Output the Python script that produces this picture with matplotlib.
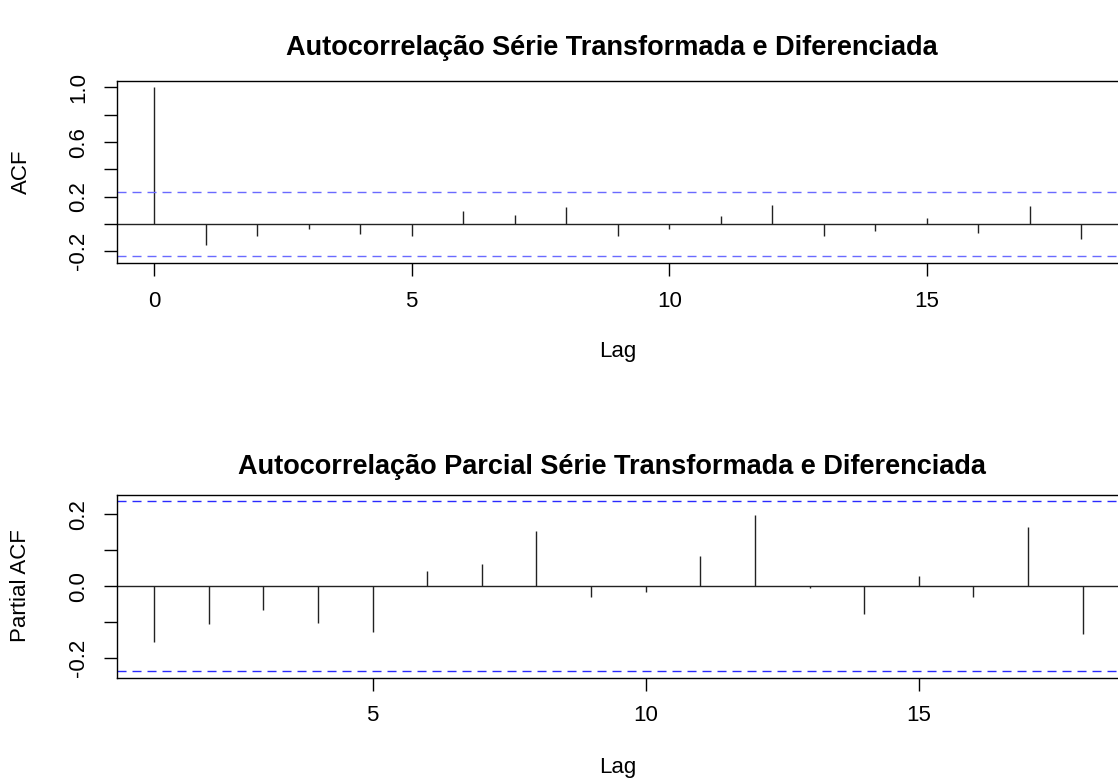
import matplotlib
matplotlib.use("Agg")
import matplotlib.pyplot as plt
import numpy as np

plt.rcParams['font.family'] = ['Liberation Sans', 'DejaVu Sans']

# ACF values (lags 0..18)
acf_lags = list(range(0, 19))
acf_vals = [1.0, -0.156, -0.085, -0.039, -0.075, -0.088, 0.095, 0.066, 0.126,
            -0.091, -0.039, 0.061, 0.136, -0.088, -0.051, 0.046, -0.068, 0.134, -0.107]
# PACF values (lags 1..18)
pacf_lags = list(range(1, 19))
pacf_vals = [-0.154, -0.106, -0.066, -0.101, -0.127, 0.042, 0.063, 0.153, -0.031,
             -0.016, 0.085, 0.199, -0.004, -0.078, 0.029, -0.029, 0.165, -0.134]
ci = 0.2355

title_acf = "Autocorrelação Série Transformada e Diferenciada"
title_pacf = "Autocorrelação Parcial Série Transformada e Diferenciada"

W, H = 1118, 778
fig = plt.figure(figsize=(W / 100, H / 100), dpi=100)

def px_axes(l, r, t, b):
    return fig.add_axes([l / W, 1 - b / H, (r - l) / W, (b - t) / H])

def ftext(x, y, s, **kw):
    fig.text(x / W, 1 - y / H, s, **kw)

ax1 = px_axes(117, 1118.5, 80.7, 263)
ax2 = px_axes(117, 1119.8, 494.7, 677.7)

fs = 16
def style(ax):
    for s in ax.spines.values():
        s.set_linewidth(1.0)
        s.set_color('black')
    ax.spines['right'].set_visible(False)
    ax.tick_params(direction='out', length=9.5, width=1.0, labelsize=fs, pad=10.5)

def draw(ax, lags, vals, ylo, yhi, cicol):
    ax.vlines(lags, 0, vals, colors='#222222', linewidth=1.0)
    ax.axhline(0, color='#222222', linewidth=1.0)
    for c in (ci, -ci):
        ax.axhline(c, color=cicol, linewidth=1.0, dashes=(6.5, 4.3))
    ax.set_ylim(ylo, yhi)

# top ACF
draw(ax1, acf_lags, acf_vals, -0.2854, 1.0494, '#6a6aff')
ax1.set_xlim(-0.72, 18.72)
style(ax1)
ax1.set_xticks([0, 5, 10, 15])
ax1.set_yticks([-0.2, 0.0, 0.2, 0.4, 0.6, 0.8, 1.0])
ax1.set_yticklabels(['-0.2', '', '0.2', '', '0.6', '', '1.0'], rotation=90, va='center')

# bottom PACF
draw(ax2, pacf_lags, pacf_vals, -0.2543, 0.2543, '#2a2aff')
ax2.set_xlim(0.32, 18.68)
style(ax2)
ax2.set_xticks([5, 10, 15])
ax2.set_yticks([-0.2, -0.1, 0.0, 0.1, 0.2])
ax2.set_yticklabels(['-0.2', '', '0.0', '', '0.2'], rotation=90, va='center')

# labels and titles
cx = 612
ftext(cx, 48, title_acf, fontsize=19.5, fontweight='bold', ha='center', va='center')
ftext(cx, 467, title_pacf, fontsize=19.5, fontweight='bold', ha='center', va='center')
ftext(618, 351, 'Lag', fontsize=fs, ha='center', va='center')
ftext(618, 767, 'Lag', fontsize=fs, ha='center', va='center')
ftext(21, 172, 'ACF', fontsize=fs, ha='center', va='center', rotation=90)
ftext(21, 586, 'Partial ACF', fontsize=fs, ha='center', va='center', rotation=90)

fig.savefig('out.png', dpi=100)
